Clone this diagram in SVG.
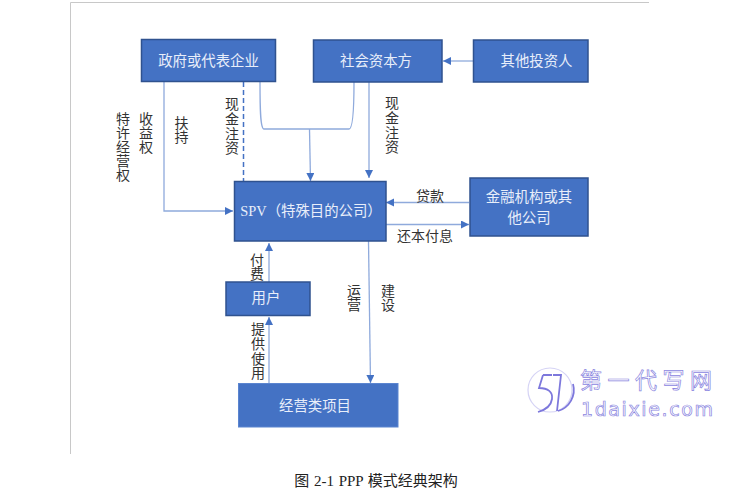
<svg xmlns="http://www.w3.org/2000/svg" width="729" height="492" viewBox="0 0 729 492">
<style>
.box{fill:#4472c4;stroke:#2f528f;stroke-width:1.5}
.bt{fill:#e8eefa;font:14.400px "Liberation Serif","Noto Sans CJK SC",serif;text-anchor:middle}
.lb{fill:#333;font:14px "Liberation Serif","Noto Sans CJK SC",serif;text-anchor:middle}
.v{fill:#333;font:14px "Noto Sans CJK SC",serif;writing-mode:vertical-rl}
.s{letter-spacing:.6px}
.c{fill:none;stroke:#8faadc;stroke-width:1.3}
.wm{fill:#fff;stroke:#8a85e0;stroke-width:.7}
</style>
<defs>
<marker id="a" markerUnits="userSpaceOnUse" markerWidth="9" markerHeight="9" refX="8" refY="4" orient="auto"><path d="M0 0L8 4L0 8Z" fill="#4472c4"/></marker>
</defs>
<rect width="729" height="492" fill="#fff"/>
<path d="M70.500 454V2.500H649" fill="none" stroke="#c8c8c8"/>
<g id="connectors">
<path class="c" d="M164 82V211H233" marker-end="url(#a)"/>
<path d="M243.500 82V181" fill="none" stroke="#4472c4" stroke-width="1.500" stroke-dasharray="5 3"/>
<path class="c" d="M260 82C260 105 260 129 264 129H349C353 129 354 105 354 82"/>
<path class="c" d="M309.500 129L310.500 181" marker-end="url(#a)"/>
<path class="c" d="M369 82V178" marker-end="url(#a)"/>
<path class="c" d="M473 61H443" marker-end="url(#a)"/>
<path class="c" d="M469 202.500H386" marker-end="url(#a)"/>
<path class="c" d="M386 224.500H469" marker-end="url(#a)"/>
<path class="c" d="M269 282V243" marker-end="url(#a)"/>
<path class="c" d="M269 383V317" marker-end="url(#a)"/>
<path class="c" d="M368.500 241L370.500 383" marker-end="url(#a)"/>
</g>
<g id="gov"><rect class="box" x="141.500" y="39.500" width="134" height="42"/><text class="bt" x="208.500" y="66">政府或代表企业</text></g>
<g id="social"><rect class="box" x="313.500" y="40" width="128.500" height="42"/><text class="bt" x="376" y="66">社会资本方</text></g>
<g id="other"><rect class="box" x="473.500" y="40" width="114.500" height="42"/><text class="bt" x="536.500" y="66">其他投资人</text></g>
<g id="spv"><rect class="box" x="234.500" y="181.500" width="151.500" height="59.500"/><text class="bt" x="311" y="216">SPV（特殊目的公司）</text></g>
<g id="finance"><rect class="box" x="470" y="178" width="118" height="58"/><text class="bt" x="529" y="202">金融机构或其</text><text class="bt" x="529" y="223">他公司</text></g>
<g id="user"><rect class="box" x="226" y="282" width="84" height="33.500"/><text class="bt" x="266" y="303">用户</text></g>
<g id="project"><rect x="238.500" y="383.500" width="159.500" height="43.500" fill="#4472c4" stroke="#5b85d0"/><text class="bt" x="315" y="411">经营类项目</text></g>
<g id="labels">
<text class="v" x="123" y="112">特许经营权</text>
<text class="v" x="146" y="112">收益权</text>
<text class="v" x="181.500" y="116">扶持</text>
<text class="v s" x="232" y="97">现金注资</text>
<text class="v s" x="392" y="96">现金注资</text>
<text class="lb" x="430" y="201">贷款</text>
<text class="lb" x="425" y="241">还本付息</text>
<text class="v" x="257" y="253">付费</text>
<text class="v s" x="258" y="322">提供使用</text>
<text class="v" x="354" y="284">运营</text>
<text class="v" x="388" y="284">建设</text>
<text x="376" y="486" fill="#222" text-anchor="middle" font-family="'Liberation Serif','Noto Sans CJK SC',serif" font-size="15" word-spacing="1">图 2-1 PPP 模式经典架构</text>
</g>
<g id="watermark">
<circle cx="550" cy="390" r="22" fill="none" stroke="#d5d3f5" stroke-width="1.200"/>
<path d="M573 384A22 22 0 0 1 558 411" fill="none" stroke="#7d78dc" stroke-width="1.800"/>
<path d="M543 375H552M543 375L539 388C548 388 553 392 552 399C551 406 545 410 538 412" fill="none" stroke="#7d78dc" stroke-width="1.800"/>
<path d="M553 375H561L557 411" fill="none" stroke="#7d78dc" stroke-width="1.800"/>
<text class="wm" x="580" y="388" font-family="'Noto Sans CJK SC',sans-serif" font-size="22" textLength="132" lengthAdjust="spacing">第一代写网</text>
<text class="wm" x="581" y="416" font-family="'DejaVu Sans',sans-serif" font-size="19" textLength="132">1daixie.com</text>
</g>
</svg>
